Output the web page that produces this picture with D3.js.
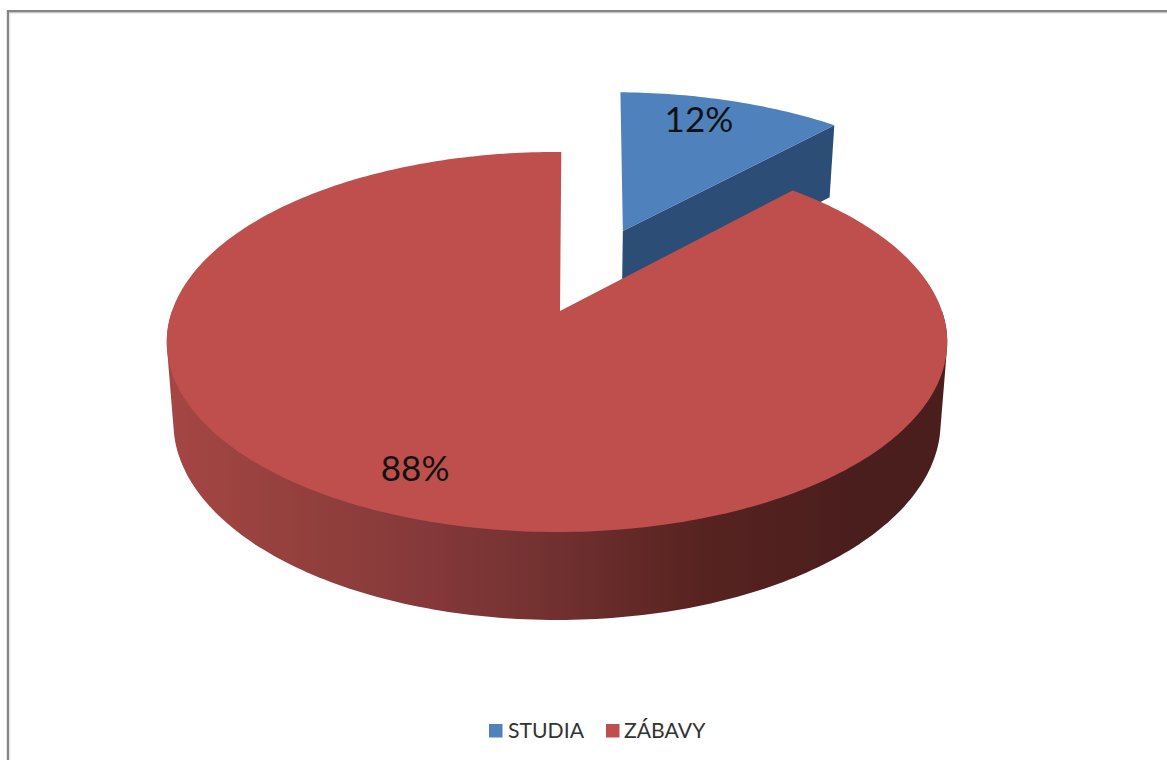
<!DOCTYPE html>
<html><head><meta charset="utf-8">
<script src="https://cdn.jsdelivr.net/npm/d3@7"></script>
<style>html,body{margin:0;padding:0;background:#fff;overflow:hidden}svg{display:block}</style>
</head><body><div id="c"></div>
<script>
const categories = ["STUDIA", "ZÁBAVY"];
const values = [12, 88];
const explode = [0.5, 0];
const topColors = ["#4F81BD", "#BE4F4C"];
const sideColors = ["#2C4D75", null];

const W = 1167, H = 760;
const svg = d3.select("#c").append("svg").attr("width", W).attr("height", H);
const defs = svg.append("defs");

// frame
svg.append("path").attr("d",`M8 ${H}V11.2H${W}`).attr("fill","none").attr("stroke","#858585").attr("stroke-width",2.4);
svg.append("path").attr("d",`M10 ${H}V13.4H${W}`).attr("fill","none").attr("stroke","#ececec").attr("stroke-width",1);

// perspective projection of the pie plane
const cx = 557, cy = 311, A = 385, B = 185, s = 0.163;
const project = (u, v) => {
  const p = 1 / (1 + s * v);
  return [cx + A * u * p, cy - B * v * p];
};
// point on the lower face, below a projected point of the upper face
const drop = ([x, y]) => [cx + (x - cx) * 0.983, y + 72 + (y - 123) * 0.039];

const pie = d3.pie().sort(null).value(d => d)(values);
const line = d3.line();

// horizontal shading of the wall
const wallStops = [[170,"#A54643"],[300,"#93403D"],[420,"#86393A"],[560,"#70302F"],[700,"#572320"],[850,"#4A1E1D"],[940,"#4A1E1D"]];
const grad = defs.append("linearGradient").attr("id","wall").attr("gradientUnits","userSpaceOnUse")
  .attr("x1",170).attr("x2",940).attr("y1",0).attr("y2",0);
wallStops.forEach(([x,c]) => grad.append("stop").attr("offset",(x-170)/770).attr("stop-color",c));

// small drawing adjustments of each slice's cut edges, apex (radians / plane units)
const startTweak = [0.02, 0], endTweak = [-0.01, 0.013], apexTweak = [0, 0.0078];

const origin = i => {
  const m = (pie[i].startAngle + pie[i].endAngle) / 2;
  return [explode[i] * Math.sin(m), explode[i] * Math.cos(m)];
};
const rimPoints = i => {
  const [u0, v0] = origin(i);
  const a0 = pie[i].startAngle + startTweak[i], a1 = pie[i].endAngle + endTweak[i];
  const n = Math.ceil((a1 - a0) / (Math.PI / 180));
  return d3.range(n + 1).map(k => {
    const t = a0 + (a1 - a0) * k / n;
    return project(u0 + Math.sin(t), v0 + Math.cos(t));
  });
};
const apex = i => { const [u, v] = origin(i); return project(u + apexTweak[i], v); };

// exploded slice: cut face, then upper face
{
  const i = 0, rim = rimPoints(i), a = apex(i), e = rim[rim.length - 1];
  svg.append("path").attr("d", line([a, e, drop(e), drop(a)]) + "Z").attr("fill", sideColors[i]);
  svg.append("path").attr("d", line([a, ...rim]) + "Z").attr("fill", topColors[i]);
}
// main slice: wall as the hull of the front rim and its lower copy, then upper face
{
  const i = 1, rim = rimPoints(i), a = apex(i);
  const front = rim.filter(p => p[1] > cy);
  const hull = d3.polygonHull([...front, ...front.map(drop)]);
  svg.append("path").attr("d", line(hull) + "Z").attr("fill", "url(#wall)");
  svg.append("path").attr("d", line([a, ...rim]) + "Z").attr("fill", topColors[i]);
}

// percentage labels
const total = d3.sum(values);
const labelShift = [[-13,-5],[-11,-3]];
pie.forEach((d, i) => {
  const m = (d.startAngle + d.endAngle) / 2, r = 0.81, [u0, v0] = origin(i);
  const [x, y] = project(u0 + r * Math.sin(m), v0 + r * Math.cos(m));
  svg.append("text").attr("x", x + labelShift[i][0]).attr("y", y + labelShift[i][1]).attr("text-anchor", "middle")
    .attr("dominant-baseline", "central")
    .attr("font-family", "Lato, 'Open Sans', sans-serif").attr("font-size", 35)
    .attr("fill", "#111").text(Math.round(values[i] / total * 100) + "%");
});

// legend
const swatchX = [489, 606], textX = [508, 624];
categories.forEach((c, i) => {
  svg.append("rect").attr("x", swatchX[i]).attr("y", 724).attr("width", 13.5).attr("height", 13.5)
    .attr("fill", topColors[i]);
  svg.append("text").attr("x", textX[i]).attr("y", 738)
    .attr("font-family", "Lato, 'Open Sans', sans-serif").attr("font-size", 21.2)
    .attr("fill", "#333").text(c);
});
</script></body></html>
